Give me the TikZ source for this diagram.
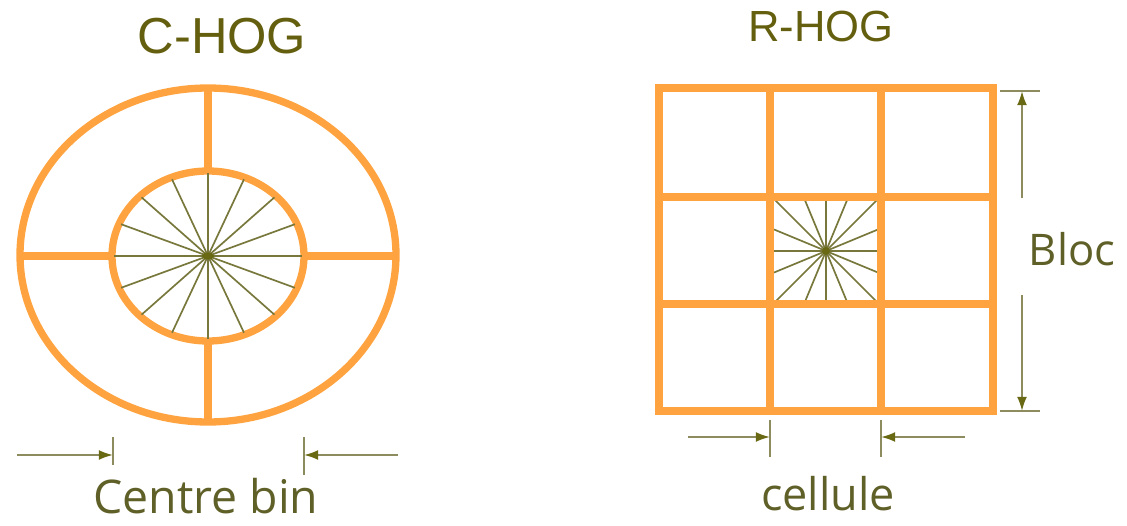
\documentclass[tikz,border=0pt]{standalone}
\usepackage{fontspec}
\setmainfont{Open Sans}
\newfontfamily\titlefont{Liberation Sans}
\usetikzlibrary{arrows.meta}
\definecolor{hogorange} {RGB}{255,163,64}
\definecolor{spokeolive}{RGB}{120,120,60}
\definecolor{dimolive}  {RGB}{140,140,95}
\definecolor{tipolive}  {RGB}{105,105,20}
\definecolor{textolive} {RGB}{95,95,40}
\definecolor{titleolive}{RGB}{100,95,15}

\begin{document}
\begin{tikzpicture}[
      x=0.025cm, y=-0.025cm,
      frame/.style={draw=hogorange, line width=5.2pt},
      spoke/.style={draw=spokeolive, line width=1.2pt},
      tickline/.style={draw=dimolive, line width=1.4pt},
      dimarr/.style={-{Latex[length=10pt,width=7pt,color=tipolive]}, draw=dimolive, line width=1.4pt},
      title/.style={anchor=base, inner sep=0pt, text=titleolive, font=\titlefont\fontsize{#1}{#1}\selectfont},
      label/.style={anchor=base, inner sep=0pt, text=textolive, font=\fontsize{#1}{#1}\selectfont},
    ]
    \useasboundingbox (0,0) rectangle (1127,526);

    % ── C-HOG ───────────────────────────────────────────────────
    \node[title=36] (chog) at (222,53) {C-HOG};

    \draw[frame] (208,255) ellipse (188 and 167);
    \draw[frame] (208,256) ellipse (96 and 85);
    \draw[frame] (208,88)  -- (208,171);
    \draw[frame] (208,341) -- (208,423);
    \draw[frame] (20,256)  -- (112,256);
    \draw[frame] (304,256) -- (396,256);

    \foreach \a in {0,22.5,...,337.5}
      \draw[spoke] (208,256) -- ++({\a}:94 and 83);
    \fill[tipolive] (208,256) ellipse (6 and 3.5);

    % ── Centre bin dimension ────────────────────────────────────
    \coordinate (cbL) at (113,455);
    \coordinate (cbR) at (304,455);
    \draw[tickline] (113,437) -- (113,465);
    \draw[tickline] (304,437) -- (304,475);
    \draw[dimarr] (17,455) -- (cbL);
    \draw[dimarr] (398,455) -- (cbR);
    \node[label=33] (centrebin) at (206,513) {Centre bin};

    % ── R-HOG ───────────────────────────────────────────────────
    \node[title=31] (rhog) at (821,42) {R-HOG};

    \begin{scope}
      \clip (770,197) rectangle (881,304);
      \foreach \a in {0,22.5,...,337.5}
        \draw[spoke] (826,251) -- ++(\a:90);
    \end{scope}
    \fill[tipolive] (826,251) circle (4);

    \draw[frame] (659,88) rectangle (993,411);
    \foreach \gx in {770,881}
      \draw[frame] (\gx,88) -- (\gx,411);
    \foreach \gy in {197,304}
      \draw[frame] (659,\gy) -- (993,\gy);

    % ── Bloc dimension ──────────────────────────────────────────
    \coordinate (blT) at (1022,91);
    \coordinate (blB) at (1022,411);
    \draw[tickline] (1000,91)  -- (1040,91);
    \draw[tickline] (1000,411) -- (1040,411);
    \draw[dimarr] (1022,198) -- (blT);
    \draw[dimarr] (1022,295) -- (blB);
    \node[label=31] (bloc) at (1072,265) {Bloc};

    % ── cellule dimension ───────────────────────────────────────
    \coordinate (ceL) at (770,437);
    \coordinate (ceR) at (881,437);
    \draw[tickline] (770,420) -- (770,457);
    \draw[tickline] (881,420) -- (881,457);
    \draw[dimarr] (688,437) -- (ceL);
    \draw[dimarr] (965,437) -- (ceR);
    \node[label=32] (cellule) at (828,510) {cellule};

\end{tikzpicture}
\end{document}
